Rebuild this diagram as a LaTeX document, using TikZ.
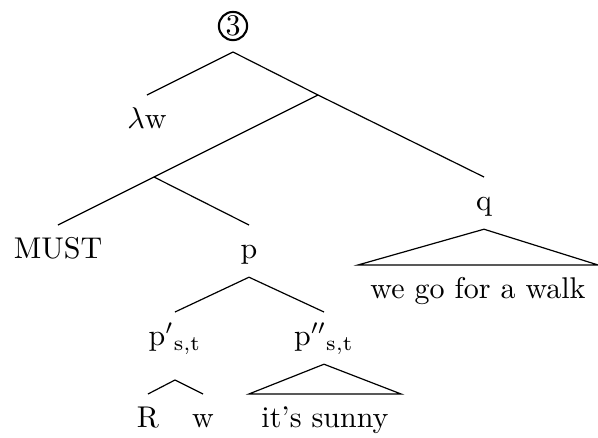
\documentclass[tikz,border=0pt]{standalone}
\begin{document}
\begin{tikzpicture}[x=0.3333pt,y=-0.3333pt,
  lab/.style={anchor=north,inner sep=4pt,text height=7pt,text depth=2pt},
  leaf/.style={anchor=north,inner ysep=4pt,inner xsep=4pt,text height=7pt,text depth=2pt},
  edge/.style={line width=0.4pt}]
\useasboundingbox (0,0) rectangle (598,437);
% root
\node[circle,draw,line width=0.7pt,inner sep=0pt,minimum size=9.4pt] (top) at (233,26) {\raisebox{0.3pt}{3}};
\coordinate (rt) at (233,52);
\coordinate (X) at (318,95);
\coordinate (Y) at (154,177);
\coordinate (f) at (175,380);
% labels
\node[lab] (lw) at (147,95) {$\lambda$w};
\node[lab] (q) at (484,177) {q};
\node[lab] (must) at (58,225) {MUST};
\node[lab] (p) at (249,225) {p};
\node[lab] (p1) at (175,312) {$\mathrm{p}'{}_{\mathrm{s,t}}$};
\node[lab] (p2) at (324,312) {$\mathrm{p}''{}_{\mathrm{s,t}}$};
\node[lab] (R) at (148,394) {R};
\node[lab] (w) at (203,394) {w};
\node[leaf] (sunny) at (325,394) {it’s sunny};
\node[leaf] (walk) at (478,265) {we go for a walk};
% edges
\draw[edge] (rt) -- (lw.north);
\draw[edge] (rt) -- (X);
\draw[edge] (X) -- (Y);
\draw[edge] (X) -- (q.north);
\draw[edge] (Y) -- (must.north);
\draw[edge] (Y) -- (p.north);
\draw[edge] (p.south) -- (p1.north);
\draw[edge] (p.south) -- (p2.north);
\draw[edge] (f) -- (R.north);
\draw[edge] (f) -- (w.north);
\draw[edge] (q.south) -- (walk.north west) -- (walk.north east) -- cycle;
\draw[edge] (p2.south) -- (sunny.north west) -- (sunny.north east) -- cycle;
\end{tikzpicture}
\end{document}
